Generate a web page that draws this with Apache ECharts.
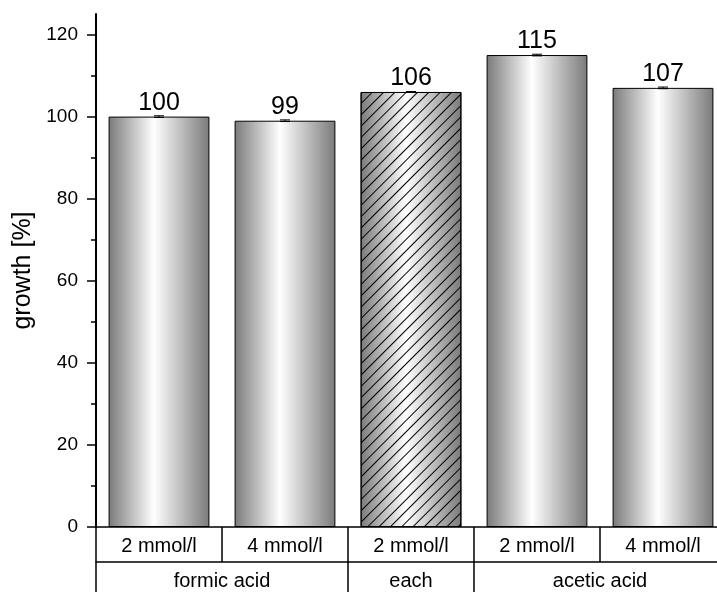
<!DOCTYPE html>
<html>
<head>
<meta charset="utf-8">
<script src="https://cdn.jsdelivr.net/npm/echarts@6/dist/echarts.min.js"></script>
<style>html,body{margin:0;padding:0;background:#fff;overflow:hidden}#c{width:726px;height:592px}</style>
</head>
<body>
<div id="c"></div>
<script>
const categories = ['2 mmol/l', '4 mmol/l', '2 mmol/l', '2 mmol/l', '4 mmol/l'];
const growth = [100, 99, 106, 115, 107];
const errors = [0.2, 0.2, 0.1, 0.2, 0.2];
const groups = ['formic acid', 'each', 'acetic acid'];
const groupSpans = [2, 1, 2];
const yMajorTicks = [0, 20, 40, 60, 80, 100, 120];
const yMinorTicks = [10, 30, 50, 70, 90, 110];
const hatchedIndex = 2;

const FONT = 'Liberation Sans, Arial, sans-serif';

// group boundaries and centres on a 0..n value scale
const groupBounds = [0];
groupSpans.forEach(s => groupBounds.push(groupBounds[groupBounds.length - 1] + s));
const groupCenters = groupSpans.map((s, i) => groupBounds[i] + s / 2);

const grad = {
  type: 'linear', x: 0, y: 0, x2: 1, y2: 0,
  colorStops: [
    { offset: 0, color: '#7a7a7a' },
    { offset: 0.45, color: '#ffffff' },
    { offset: 1, color: '#7a7a7a' }
  ]
};

const barData = growth.map((v, i) => {
  const item = { value: v };
  if (i === hatchedIndex) {
    item.itemStyle = {
      decal: {
        symbol: 'rect',
        symbolSize: 1,
        dashArrayX: [1, 0],
        dashArrayY: [1, 7],
        rotation: -Math.PI / 4,
        color: '#000'
      }
    };
  }
  return item;
});

const errData = growth.map((v, i) => [i, v, errors[i]]);

const chart = echarts.init(document.getElementById('c'));
chart.setOption({
  backgroundColor: '#fff',
  animation: false,
  textStyle: { fontFamily: FONT },
  grid: { left: 96, top: 14, bottom: 65, right: 0 },
  xAxis: [
    {
      type: 'category',
      data: categories,
      position: 'bottom',
      axisLine: { show: true, onZero: false, lineStyle: { color: '#000', width: 1.5 } },
      axisTick: { show: true, length: 35, lineStyle: { color: '#000', width: 1.5 } },
      axisLabel: { color: '#000', fontSize: 20, fontFamily: FONT, margin: 9 },
      splitLine: { show: false }
    },
    {
      type: 'value',
      min: 0,
      max: categories.length,
      position: 'bottom',
      offset: 35,
      axisLine: { show: true, onZero: false, lineStyle: { color: '#000', width: 1.5 } },
      axisTick: { show: true, length: 32, customValues: groupBounds, lineStyle: { color: '#000', width: 1.5 } },
      axisLabel: {
        color: '#000', fontSize: 20, fontFamily: FONT, margin: 9,
        customValues: groupCenters,
        formatter: v => {
          const k = groupCenters.indexOf(v);
          return k >= 0 ? groups[k] : '';
        }
      },
      splitLine: { show: false }
    }
  ],
  yAxis: [
    {
      type: 'value',
      min: 0,
      max: 125,
      interval: 20,
      name: 'growth [%]',
      nameLocation: 'middle',
      nameGap: 57,
      nameTextStyle: { color: '#000', fontSize: 25, fontFamily: FONT },
      axisLine: { show: true, onZero: false, lineStyle: { color: '#000', width: 2 } },
      axisTick: { show: true, length: 9, customValues: yMajorTicks, lineStyle: { color: '#000', width: 1.5 } },
      axisLabel: { color: '#000', fontSize: 19, fontFamily: FONT, margin: 18, customValues: yMajorTicks },
      splitLine: { show: false }
    },
    {
      type: 'value',
      min: 0,
      max: 125,
      position: 'left',
      axisLine: { show: false },
      axisTick: { show: true, length: 5, customValues: yMinorTicks, lineStyle: { color: '#000', width: 1.5 } },
      axisLabel: { show: false },
      splitLine: { show: false }
    }
  ],
  series: [
    {
      type: 'bar',
      xAxisIndex: 0,
      yAxisIndex: 0,
      data: barData,
      barCategoryGap: '20%',
      itemStyle: { color: grad, borderColor: '#000', borderWidth: 1 },
      label: {
        show: true, position: 'top', distance: 1,
        color: '#000', fontSize: 25, fontFamily: FONT
      }
    },
    {
      type: 'custom',
      xAxisIndex: 0,
      yAxisIndex: 0,
      data: errData,
      z: 5,
      renderItem: (params, api) => {
        const x = api.value(0), v = api.value(1), e = api.value(2);
        const hi = api.coord([x, v + e]);
        const lo = api.coord([x, v - e]);
        const w = 5;
        return {
          type: 'group',
          children: [
            { type: 'line', shape: { x1: hi[0], y1: hi[1], x2: lo[0], y2: lo[1] }, style: { stroke: '#000', lineWidth: 1 } },
            { type: 'line', shape: { x1: hi[0] - w, y1: hi[1], x2: hi[0] + w, y2: hi[1] }, style: { stroke: '#000', lineWidth: 1 } },
            { type: 'line', shape: { x1: lo[0] - w, y1: lo[1], x2: lo[0] + w, y2: lo[1] }, style: { stroke: '#000', lineWidth: 1 } }
          ]
        };
      }
    }
  ]
});
</script>
</body>
</html>
